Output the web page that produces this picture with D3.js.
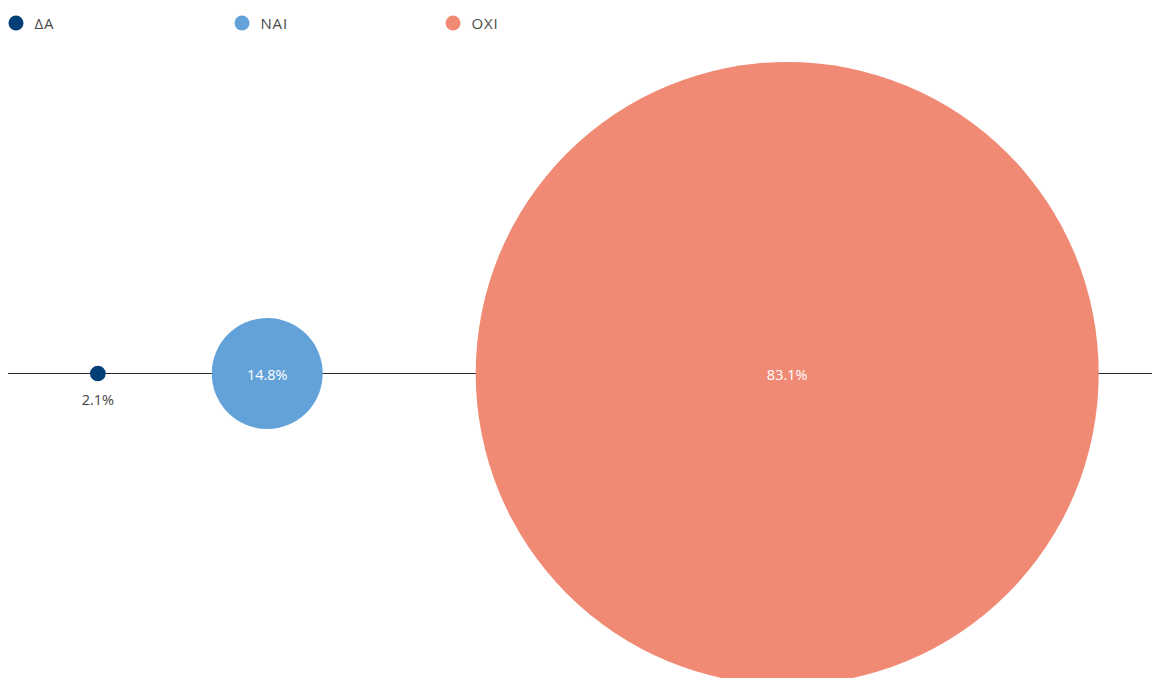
<!DOCTYPE html>
<html><head><meta charset="utf-8">
<script src="https://cdn.jsdelivr.net/npm/d3@7"></script>
<style>html,body{margin:0;padding:0;background:#fff;overflow:hidden}svg{display:block}</style>
</head><body>
<svg id="chart" width="1152" height="678"></svg>
<script>
const categories = ["ΔΑ", "ΝΑΙ", "ΟΧΙ"];
const values = [2.1, 14.8, 83.1];
const valueLabels = ["2.1%", "14.8%", "83.1%"];
const colors = ["#023f78", "#62a2d9", "#f08a74"];

const W = 1152, H = 678;
const svg = d3.select("#chart");
const font = "'Open Sans', Lato, sans-serif";

// radius proportional to value
const r = d3.scaleLinear().domain([0, d3.max(values)]).range([0, 311.5]);

// horizontal layout: circles placed one after another with gaps
const lineY = 373.5, lineX0 = 8, lineX1 = W;
const gaps = [82, 106, 153];
const xs = [];
let cursor = lineX0;
values.forEach((v, i) => {
  cursor += gaps[i] + r(v);
  xs.push(cursor);
  cursor += r(v);
});

svg.append("line")
  .attr("x1", lineX0).attr("x2", lineX1)
  .attr("y1", lineY).attr("y2", lineY)
  .attr("stroke", "#2b2b2b").attr("stroke-width", 1);

const g = svg.append("g");
g.selectAll("circle").data(values).join("circle")
  .attr("cx", (d, i) => xs[i])
  .attr("cy", lineY)
  .attr("r", d => r(d))
  .attr("fill", (d, i) => colors[i]);

g.selectAll("text").data(values).join("text")
  .attr("x", (d, i) => xs[i])
  .attr("y", d => r(d) > 20 ? lineY + 6 : lineY + 31)
  .attr("text-anchor", "middle")
  .attr("font-family", font)
  .attr("font-size", 14.5)
  .attr("fill", d => r(d) > 20 ? "#ffffff" : "#444444")
  .text((d, i) => valueLabels[i]);

// legend
const legend = svg.append("g");
const lx = d3.scaleOrdinal().domain(categories).range([16, 242, 453]);
const items = legend.selectAll("g").data(categories).join("g")
  .attr("transform", d => `translate(${lx(d)},23)`);
items.append("circle").attr("r", 7.5).attr("fill", (d, i) => colors[i]);
items.append("text")
  .attr("x", 18.5).attr("y", 5.5)
  .attr("font-family", font).attr("font-size", 15)
  .attr("letter-spacing", 0.8)
  .attr("fill", "#4a4a4a")
  .text(d => d);
</script>
</body></html>
